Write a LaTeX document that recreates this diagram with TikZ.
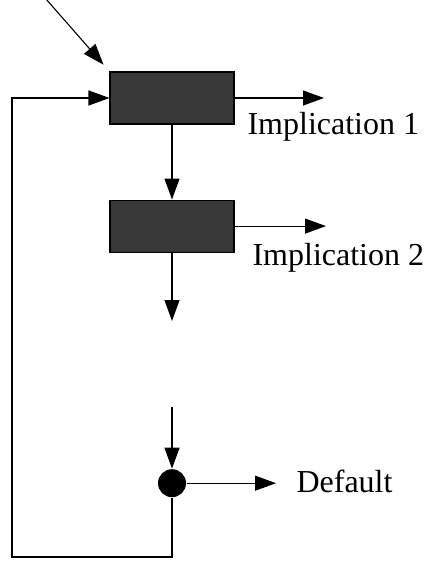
\documentclass[tikz,border=0pt]{standalone}
\usepackage{fontspec}
\setmainfont{Liberation Serif}
\usepackage{tikz}
\usetikzlibrary{positioning,arrows.meta}

\begin{document}
\begin{tikzpicture}[x=1pt, y=-1pt, node distance={75pt},
    box/.style = {draw, rectangle, fill=black!78, minimum width=124pt, minimum height=52pt, inner sep=0pt},
    junction/.style = {circle, fill=black, minimum size=28pt, inner sep=0pt},
    lbl/.style = {anchor=west, inner sep=0pt, font=\fontsize{32}{38}\selectfont},
    >={Triangle[length=21pt, width=15pt]}, line width=1.1pt]
    \useasboundingbox (0,0) rectangle (425,562);

    \node[box] (1) at (172,98) {};
    \node[box] (2) [below =of 1] {};
    \node[junction] (3) [below =216pt of 2] {};

    \coordinate (in) at (46,-1);
    \coordinate (out1) at (324,98);
    \coordinate (out2) at (326,225);
    \coordinate (out3) at (276,481);
    \coordinate (gapa) at (172,321);
    \coordinate (gapb) at (172,407);
    \coordinate (corner) at (12,557);

    \node[lbl] (l1) at (247,127) {Implication 1};
    \node[lbl] (l2) at (252,258) {Implication 2};
    \node[lbl] (l3) at (296,481) {Default};

    \draw[->, shorten >=9pt] (in) -- (1.north west);
    \draw[->] (1) -- (1 -| out1);
    \draw[->] (1) -- (2);
    \draw[->] (2) -- (2 -| out2);
    \draw[->] (2) -- (gapa);
    \draw[->] (gapb) -- (3);
    \draw[->] (3) -- (3 -| out3);
    %loop back
    \draw[->] (3) |- (corner) |- (1.west);
\end{tikzpicture}
\end{document}
